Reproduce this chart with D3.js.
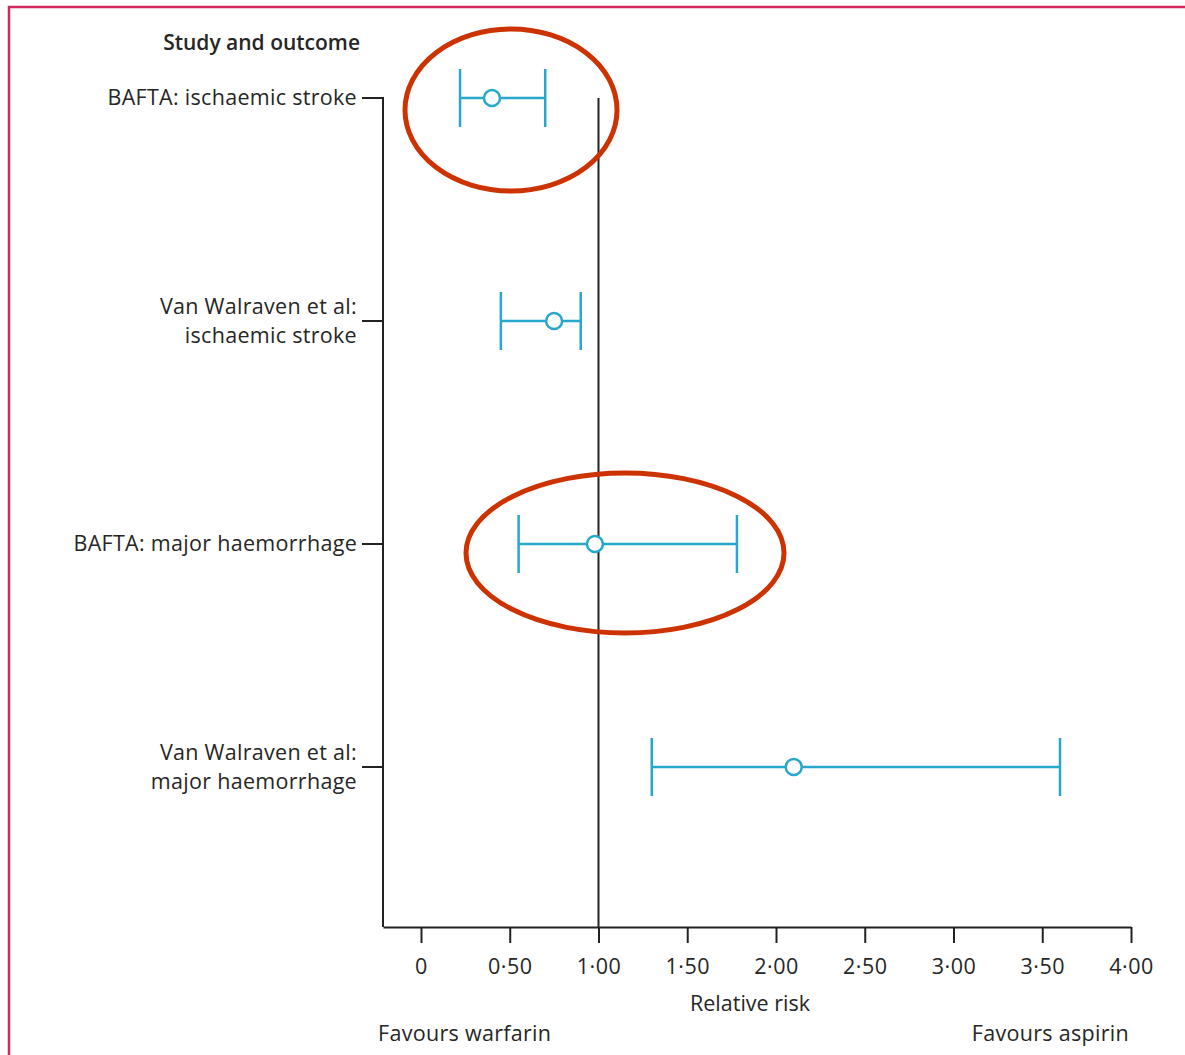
<!DOCTYPE html>
<html><head><meta charset="utf-8">
<script src="https://cdn.jsdelivr.net/npm/d3@7"></script>
<style>body{margin:0;background:#fff}svg{display:block}text{font-family:"Open Sans",sans-serif;fill:#262626}</style>
</head><body><svg id="c" width="1185" height="1055"></svg>
<script>
const studies = [["BAFTA: ischaemic stroke"], ["Van Walraven et al:", "ischaemic stroke"], ["BAFTA: major haemorrhage"], ["Van Walraven et al:", "major haemorrhage"]];
const estimates = [0.40, 0.75, 0.98, 2.10];
const lowerCI = [0.22, 0.45, 0.55, 1.30];
const upperCI = [0.70, 0.90, 1.78, 3.60];
const tickValues = [0, 0.5, 1, 1.5, 2, 2.5, 3, 3.5, 4];
const highlighted = [0, 2];

const svg = d3.select("#c");
const blue = "#27a7cc", ink = "#222";

// frame
svg.append("path").attr("d","M9,1055 V7 H1185").attr("fill","none").attr("stroke","#d4285c").attr("stroke-width",2.5);

const x = d3.scaleLinear().domain([-0.214, 4]).range([383, 1131]);
const y = d3.scalePoint().domain(d3.range(studies.length)).range([98, 767]);
const yBottom = 927;

// x axis
const xAxis = d3.axisBottom(x).tickValues(tickValues).tickSize(16).tickSizeOuter(0)
  .tickFormat(d => d === 0 ? "0" : d3.format(".2f")(d).replace(".", "\u00b7"));
const gx = svg.append("g").attr("transform", `translate(0,${yBottom})`).call(xAxis);
gx.select(".domain").attr("stroke", ink).attr("stroke-width", 2);
gx.selectAll(".tick line").attr("stroke", ink).attr("stroke-width", 2);
gx.selectAll(".tick text").attr("y", 32).attr("font-size", 21.5).attr("fill", "#262626").style("font-family", '"Open Sans",sans-serif').style("letter-spacing", "0.5px");

// y axis
svg.append("line").attr("x1", 383).attr("x2", 383).attr("y1", y(0) - 1).attr("y2", yBottom).attr("stroke", ink).attr("stroke-width", 2);
svg.selectAll(".ytick").data(studies).join("line")
  .attr("x1", 362).attr("x2", 384).attr("y1", (d, i) => y(i)).attr("y2", (d, i) => y(i))
  .attr("stroke", ink).attr("stroke-width", 2);

// reference line at 1
svg.append("line").attr("x1", x(1)).attr("x2", x(1)).attr("y1", y(0)).attr("y2", yBottom).attr("stroke", ink).attr("stroke-width", 2);

// labels
const lab = svg.selectAll(".lab").data(studies).join("text").attr("text-anchor", "end").attr("font-size", 21.5).style("letter-spacing", "0.3px");
lab.each(function(d, i) {
  const t = d3.select(this);
  const n = d.length;
  d.forEach((line, j) => {
    t.append("tspan").attr("x", 357).attr("y", y(i) + 7 + (j - (n - 1) / 2) * 29).text(line);
  });
});

svg.append("text").attr("x", 360).attr("y", 50).attr("text-anchor", "end").attr("font-size", 21).attr("font-weight", 600).text("Study and outcome");

// CIs
const g = svg.append("g");
studies.forEach((d, i) => {
  const cy = y(i);
  g.append("line").attr("x1", x(lowerCI[i])).attr("x2", x(upperCI[i])).attr("y1", cy).attr("y2", cy).attr("stroke", blue).attr("stroke-width", 2.5);
  [lowerCI[i], upperCI[i]].forEach(v => g.append("line").attr("x1", x(v)).attr("x2", x(v)).attr("y1", cy - 29).attr("y2", cy + 29).attr("stroke", blue).attr("stroke-width", 2.5));
  g.append("circle").attr("cx", x(estimates[i])).attr("cy", cy).attr("r", 8).attr("fill", "#fff").attr("stroke", blue).attr("stroke-width", 2.5);
});

// highlight ellipses
const ell = [{cx: 511, cy: 110, rx: 106, ry: 81}, {cx: 625, cy: 553, rx: 159, ry: 80}];
highlighted.forEach((row, k) => {
  svg.append("ellipse").attr("cx", ell[k].cx).attr("cy", ell[k].cy).attr("rx", ell[k].rx).attr("ry", ell[k].ry)
    .attr("fill", "none").attr("stroke", "#cc3300").attr("stroke-width", 5);
});

// axis titles
svg.append("text").attr("x", 750).attr("y", 1011).attr("text-anchor", "middle").attr("font-size", 21.5).text("Relative risk");
svg.append("text").attr("x", 378).attr("y", 1041).attr("font-size", 21.5).style("letter-spacing", "0.3px").text("Favours warfarin");
svg.append("text").attr("x", 1129).attr("y", 1041).attr("text-anchor", "end").attr("font-size", 21.5).style("letter-spacing", "0.3px").text("Favours aspirin");
</script></body></html>
